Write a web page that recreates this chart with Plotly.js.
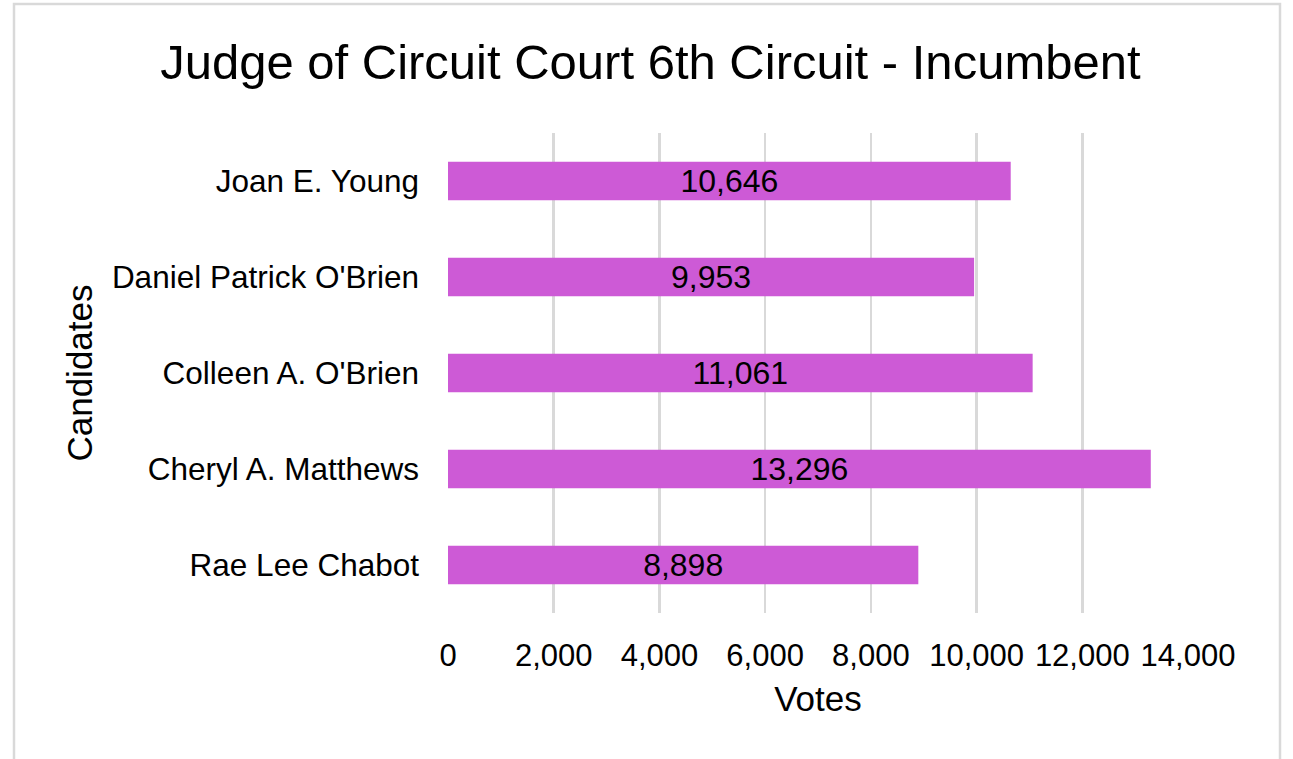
<!DOCTYPE html>
<html>
<head>
<meta charset="utf-8">
<script src="https://cdn.plot.ly/plotly-3.0.1.min.js"></script>
<style>
html,body{margin:0;padding:0;background:#fff;}
#chart{width:1293px;height:759px;}
</style>
</head>
<body>
<div id="chart"></div>
<script>
const candidates = ["Joan E. Young", "Daniel Patrick O'Brien", "Colleen A. O'Brien", "Cheryl A. Matthews", "Rae Lee Chabot"];
const votes = [10646, 9953, 11061, 13296, 8898];
const xTicks = [0, 2000, 4000, 6000, 8000, 10000, 12000, 14000];

const FONT = "Liberation Sans, Arial, sans-serif";

const trace = {
  type: 'bar',
  orientation: 'h',
  y: candidates,
  x: votes,
  marker: {color: '#CD5AD6'},
  text: votes,
  texttemplate: '%{x:,}',
  textposition: 'inside',
  insidetextanchor: 'middle',
  constraintext: 'none',
  textfont: {family: FONT, size: 32, color: '#000'},
  hoverinfo: 'none'
};

const layout = {
  width: 1293,
  height: 759,
  paper_bgcolor: '#fff',
  plot_bgcolor: '#fff',
  margin: {l: 448, r: 105, t: 133, b: 146},
  bargap: 0.6,
  showlegend: false,
  font: {family: FONT, color: '#000'},
  title: {
    text: 'Judge of Circuit Court 6th Circuit - Incumbent',
    font: {family: FONT, size: 49, color: '#000'},
    x: 0.503, xref: 'container', xanchor: 'center',
    y: 1 - 62/759, yref: 'container', yanchor: 'middle'
  },
  xaxis: {
    range: [0, 14000],
    tickvals: xTicks,
    tickformat: ',',
    showgrid: true,
    gridcolor: '#d9d9d9',
    gridwidth: 2.5,
    zeroline: false,
    showline: false,
    ticks: '',
    ticklabelstandoff: 21,
    tickfont: {family: FONT, size: 31, color: '#000'},
    title: {text: 'Votes', font: {family: FONT, size: 35, color: '#000'}, standoff: 14},
    fixedrange: true
  },
  yaxis: {
    type: 'category',
    autorange: 'reversed',
    showgrid: false,
    zeroline: false,
    showline: false,
    ticks: '',
    ticklabelstandoff: 28,
    tickfont: {family: FONT, size: 31.5, color: '#000'},
    title: {text: 'Candidates', font: {family: FONT, size: 35, color: '#000'}, standoff: 8},
    fixedrange: true
  },
  shapes: [{
    type: 'rect', xref: 'paper', yref: 'paper',
    x0: (14 - 448) / 740, x1: (1280 - 448) / 740,
    y0: (613 - 775) / 480, y1: (613 - 4) / 480,
    line: {color: '#d9d9d9', width: 2.5},
    fillcolor: 'rgba(0,0,0,0)',
    layer: 'below'
  }]
};

Plotly.newPlot('chart', [trace], layout, {displayModeBar: false, staticPlot: true});
</script>
</body>
</html>
